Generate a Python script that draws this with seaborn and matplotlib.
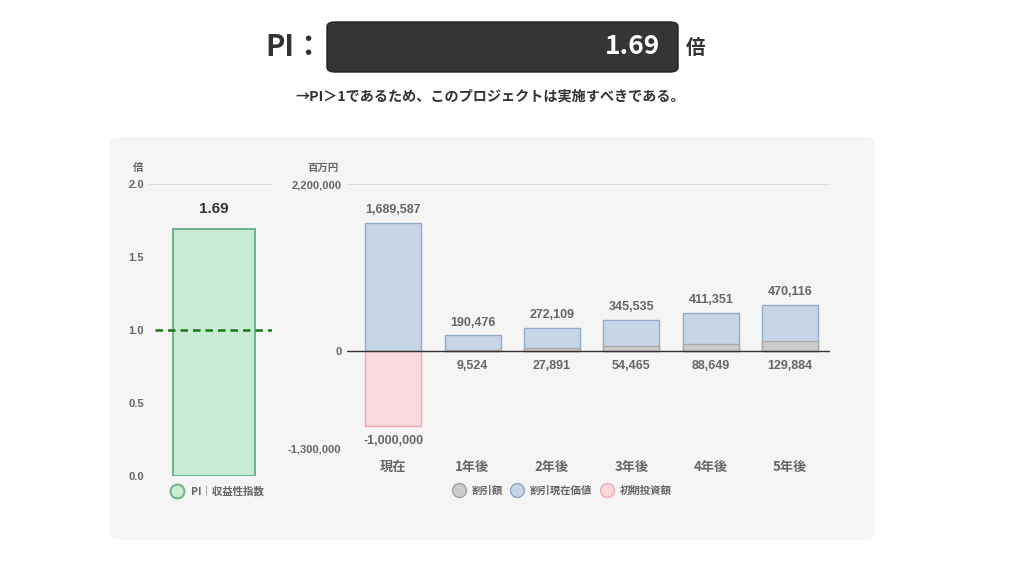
import numpy as np
import pandas as pd
import matplotlib.pyplot as plt
import seaborn as sns
from matplotlib.patches import FancyBboxPatch
from matplotlib.lines import Line2D
from matplotlib.ticker import FuncFormatter

# data
periods = ['現在', '1年後', '2年後', '3年後', '4年後', '5年後']
pv = [1689587, 190476, 272109, 345535, 411351, 470116]
discount = [0, 9524, 27891, 54465, 88649, 129884]
initial = [-1000000, 0, 0, 0, 0, 0]
pi_value = 1.69
pi_label = 'PI｜収益性指数'

sns.set_theme(style='white')
plt.rcParams['font.family'] = ['Liberation Sans', 'Noto Sans CJK JP']

TXT = '#666666'
DARK = '#333333'
CJK = ['Noto Sans CJK JP', 'DejaVu Sans']

fig = plt.figure(figsize=(10.24, 5.65), dpi=100)
fig.patch.set_facecolor('white')

def fx(px):
    return px / 1024

def fy(py):
    return 1 - py / 565

# panel background
panel = FancyBboxPatch((fx(110), fy(540)), fx(875) - fx(110), fy(137) - fy(540),
                       boxstyle='round,pad=0,rounding_size=0.012',
                       transform=fig.transFigure, facecolor='#f5f5f5',
                       edgecolor='none', zorder=-5)
fig.patches.append(panel)

# header
fig.text(fx(294), fy(47), 'PI：', fontsize=21, fontweight='bold', color=DARK,
         ha='center', va='center', family=CJK)
box = FancyBboxPatch((fx(327), fy(72)), fx(678) - fx(327), fy(22) - fy(72),
                     boxstyle='round,pad=0,rounding_size=0.008',
                     transform=fig.transFigure, facecolor='#353535',
                     edgecolor='#222222', linewidth=1, zorder=-5)
fig.patches.append(box)
fig.text(fx(660), fy(47), f'{pi_value:.2f}', fontsize=19, fontweight='bold',
         color='white', ha='right', va='center', family=CJK)
fig.text(fx(696), fy(49), '倍', fontsize=14, fontweight='bold', color=DARK,
         ha='center', va='center', family=CJK)
fig.text(fx(490), fy(96), '→PI＞1であるため、このプロジェクトは実施すべきである。',
         fontsize=10.2, fontweight='bold', color=DARK, ha='center', va='center',
         family=CJK)

# left: PI bar
ax1 = fig.add_axes([fx(148), fy(476), fx(272) - fx(148), fy(184) - fy(476)])
ax1.set_facecolor('none')
pi_df = pd.DataFrame({'name': [pi_label], 'value': [pi_value]})
sns.barplot(data=pi_df, x='name', y='value', ax=ax1, width=0.66,
            color='#c8ecd4', edgecolor='#72b48c', linewidth=1.5, saturation=1)
ax1.set_xlim(-0.53, 0.47)
ax1.set_ylim(0, 2.0)
ax1.set_yticks([0, 0.5, 1.0, 1.5, 2.0])
ax1.yaxis.set_major_formatter(FuncFormatter(lambda v, p: f'{v:.1f}'))
ax1.tick_params(axis='y', labelsize=8, labelcolor=TXT, length=0, pad=3)
for lb in ax1.get_yticklabels():
    lb.set_fontweight('bold')
ax1.set_xticks([])
ax1.set_xlabel('')
ax1.set_ylabel('')
for s in ax1.spines.values():
    s.set_visible(False)
ax1.axhline(2.0, color='#dddddd', linewidth=0.8, zorder=0)
ax1.axhline(0.0, color='#dddddd', linewidth=0.8, zorder=0)
ax1.plot([-0.475, 0.47], [1.0, 1.0], color='#157a15', linestyle='--',
         linewidth=1.8, dashes=(3, 2), zorder=5)
ax1.text(0, pi_value + 0.09, f'{pi_value:.2f}', ha='center', va='bottom',
         fontsize=11, fontweight='bold', color=DARK)
fig.text(fx(138), fy(168), '倍', fontsize=7.5, fontweight='bold', color=TXT,
         ha='center', va='center', family=CJK)
leg1 = [Line2D([0], [0], marker='o', linestyle='none', markersize=10,
               markerfacecolor='#c8ecd4', markeredgecolor='#72b48c',
               markeredgewidth=1.5, label=pi_label)]
fig.legend(handles=leg1, loc='center', bbox_to_anchor=(fx(215), fy(491)),
           frameon=False, handletextpad=0.3,
           labelcolor=TXT, prop={'weight': 'bold', 'size': 7.5, 'family': CJK})

# right: cash flow bars
ax2 = fig.add_axes([fx(347), fy(449), fx(830) - fx(347), fy(184) - fy(449)])
ax2.set_facecolor('none')
total = [p + d for p, d in zip(pv, discount)]
df = pd.DataFrame({'period': periods, 'total': total, 'discount': discount,
                   'initial': initial})
sns.barplot(data=df, x='period', y='total', ax=ax2, width=0.705,
            color='#c6d6e7', edgecolor='#93abc9', linewidth=1, saturation=1)
sns.barplot(data=df, x='period', y='discount', ax=ax2, width=0.705,
            color='#cccccc', edgecolor='#a8a8a8', linewidth=1, saturation=1)
sns.barplot(data=df, x='period', y='initial', ax=ax2, width=0.705,
            color='#fcd9df', edgecolor='#f0a8b4', linewidth=1, saturation=1)
ax2.set_xlim(-0.58, 5.5)
ax2.set_ylim(-1300000, 2200000)
ax2.set_yticks([-1300000, 0, 2200000])
ax2.yaxis.set_major_formatter(FuncFormatter(lambda v, p: f'{int(v):,}'))
ax2.tick_params(axis='y', labelsize=8, labelcolor=TXT, length=0, pad=4)
ax2.tick_params(axis='x', labelsize=9.5, labelcolor=TXT, length=0, pad=8)
for lb in ax2.get_yticklabels():
    lb.set_fontweight('bold')
for lb in ax2.get_xticklabels():
    lb.set_fontweight('bold')
    lb.set_family(CJK)
ax2.set_xlabel('')
ax2.set_ylabel('')
for s in ax2.spines.values():
    s.set_visible(False)
ax2.axhline(2200000, color='#dddddd', linewidth=0.8, zorder=0)
ax2.axhline(-1300000, color='#dddddd', linewidth=0.8, zorder=0)
ax2.axhline(0, color='#333333', linewidth=1, zorder=6)
for i in range(len(periods)):
    ax2.text(i, total[i] + 90000, f'{pv[i]:,}', ha='center', va='bottom',
             fontsize=9, fontweight='bold', color=TXT)
    if initial[i] < 0:
        ax2.text(i, initial[i] - 120000, f'{initial[i]:,}', ha='center', va='top',
                 fontsize=9, fontweight='bold', color=TXT)
    else:
        ax2.text(i, -120000, f'{discount[i]:,}', ha='center', va='top',
                 fontsize=9, fontweight='bold', color=TXT)
fig.text(fx(323), fy(168), '百万円', fontsize=7.5, fontweight='bold', color=TXT,
         ha='center', va='center', family=CJK)

leg2 = [
    Line2D([0], [0], marker='o', linestyle='none', markersize=10,
           markerfacecolor='#cccccc', markeredgecolor='#a0a0a0', label='割引額'),
    Line2D([0], [0], marker='o', linestyle='none', markersize=10,
           markerfacecolor='#c6d6e7', markeredgecolor='#8fa8c8', label='割引現在価値'),
    Line2D([0], [0], marker='o', linestyle='none', markersize=10,
           markerfacecolor='#fcd9df', markeredgecolor='#f0a8b4', label='初期投資額'),
]
fig.legend(handles=leg2, loc='center', bbox_to_anchor=(fx(560), fy(491)), ncol=3,
           frameon=False, handletextpad=0.2, columnspacing=0.4,
           labelcolor=TXT, prop={'weight': 'bold', 'size': 7.5, 'family': CJK})

fig.savefig('out.png', dpi=100)
